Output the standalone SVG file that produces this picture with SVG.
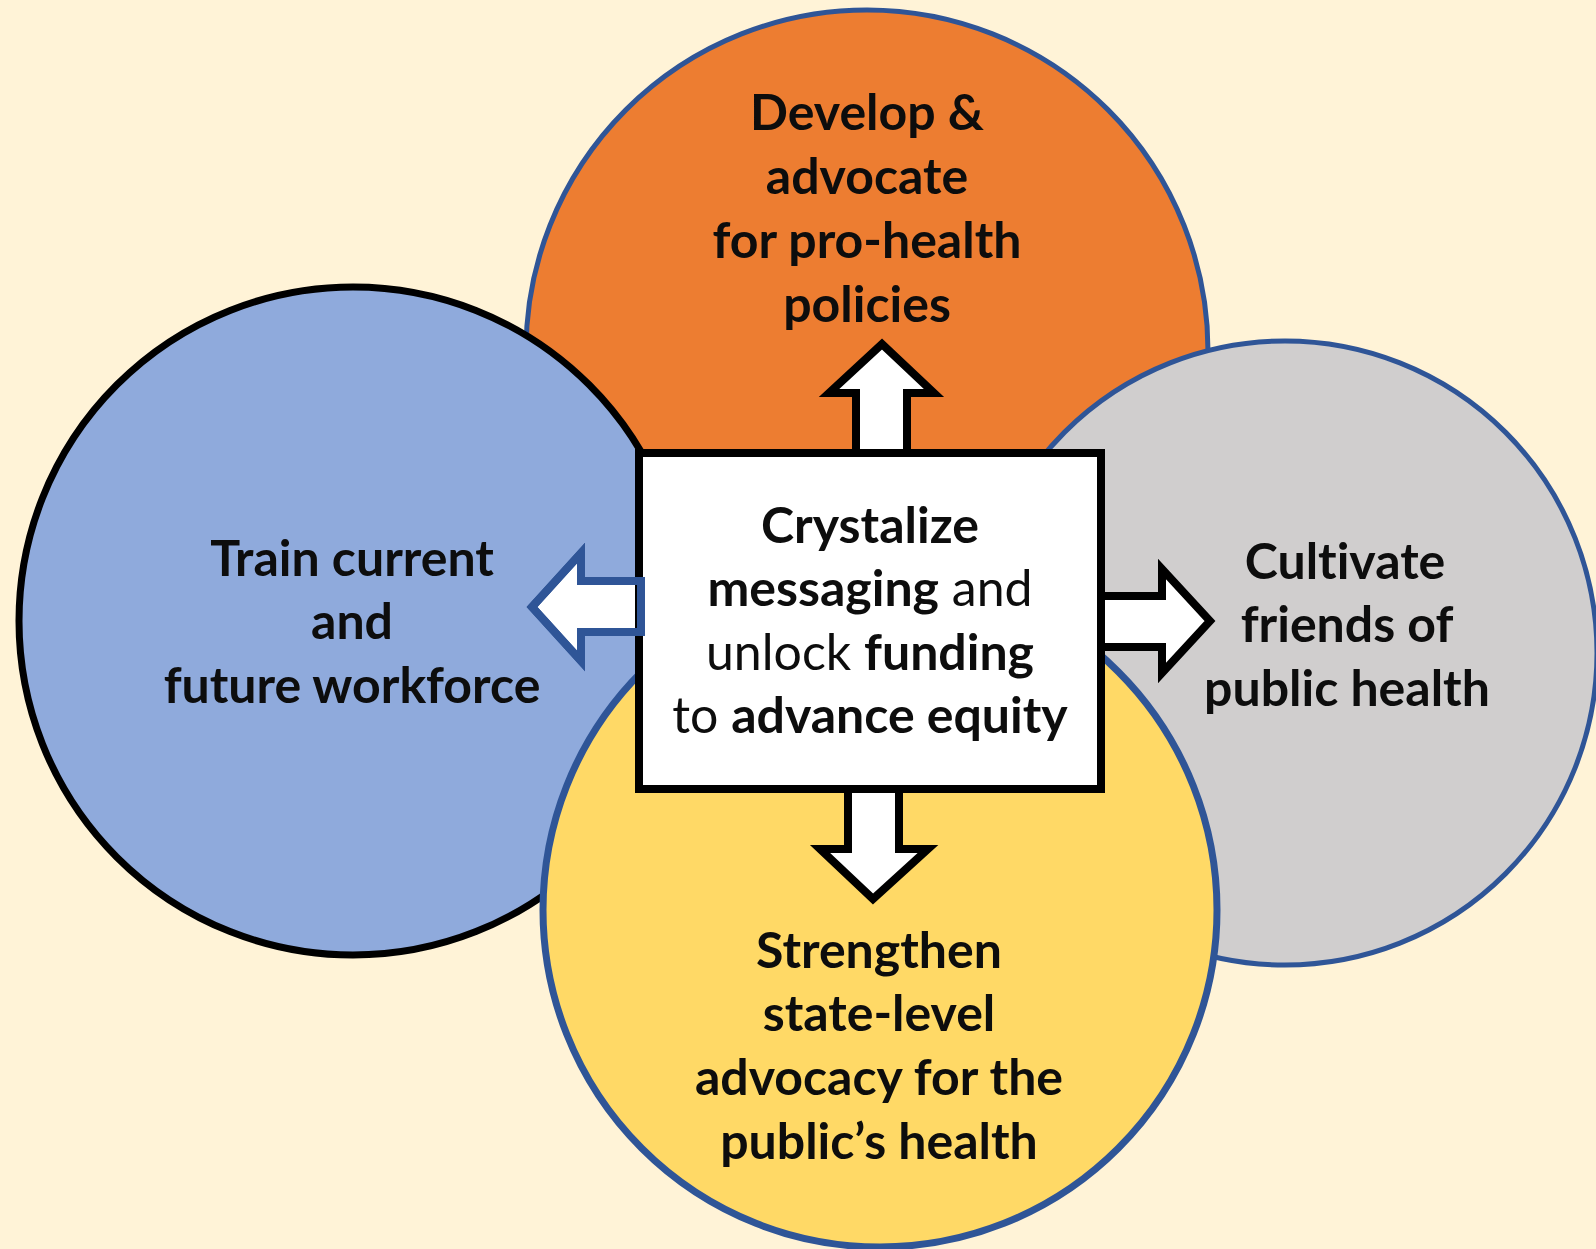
<svg xmlns="http://www.w3.org/2000/svg" width="1596" height="1249" viewBox="0 0 1596 1249">
<style>
.t{font-family:Lato,"Open Sans","Liberation Sans",sans-serif;font-size:50px;font-weight:bold;fill:#0d0d0d;text-anchor:middle;font-variant-ligatures:none;font-feature-settings:"liga" 0,"dlig" 0}
.r{font-weight:normal}
.ring{stroke:#2F5597;stroke-width:5}
.arw{fill:#fff;stroke:#000;stroke-width:8;stroke-linejoin:miter}
</style>
<rect x="0" y="0" width="1596" height="1249" fill="#FFF3D7"/>
<g id="node-policies">
<circle cx="867" cy="351" r="341" fill="#ED7D31" class="ring"/>
<text class="t"><tspan x="867" y="130">Develop &amp;</tspan><tspan x="867" y="194">advocate</tspan><tspan x="867" y="258">for pro-health</tspan><tspan x="867" y="322">policies</tspan></text>
</g>
<g id="node-workforce">
<circle cx="353" cy="621" r="334" fill="#8FAADC" stroke="#000" stroke-width="7"/>
<text class="t"><tspan x="352" y="576">Train current</tspan><tspan x="352" y="639">and</tspan><tspan x="352" y="703">future workforce</tspan></text>
</g>
<g id="node-friends">
<circle cx="1285" cy="653" r="312" fill="#D0CECE" class="ring"/>
<text class="t"><tspan x="1345" y="579">Cultivate</tspan><tspan x="1347" y="642">friends of</tspan><tspan x="1347" y="706">public health</tspan></text>
</g>
<g id="node-state">
<circle cx="880" cy="910" r="337" fill="#FFD966" stroke="#2F5597" stroke-width="7"/>
<text class="t"><tspan x="879" y="968">Strengthen</tspan><tspan x="879" y="1031">state-level</tspan><tspan x="879" y="1095">advocacy for the</tspan><tspan x="879" y="1159">public’s health</tspan></text>
</g>
<g id="connectors">
<polygon class="arw" points="856,456 856,393 829,393 882,344 934,393 907,393 907,456"/>
<polygon class="arw" points="848,786 848,849 820,849 873,899 928,849 899,849 899,786"/>
<polygon class="arw" points="1098,596 1162,596 1162,569 1210,621 1162,673 1162,647 1098,647"/>
<polygon points="532,607 581,553 581,581 641,581 641,632 581,632 581,661" fill="#fff" stroke="#2F5597" stroke-width="8"/>
</g>
<g id="node-center">
<rect x="639" y="453" width="462" height="336" fill="#fff" stroke="#000" stroke-width="8"/>
<polygon points="532,607 581,553 581,581 641,581 641,632 581,632 581,661" fill="none" stroke="#2F5597" stroke-width="8"/>
<text class="t"><tspan x="870" y="543">Crystalize</tspan><tspan x="870" y="606">messaging<tspan class="r"> and</tspan></tspan><tspan x="870" y="670"><tspan class="r">unlock </tspan>funding</tspan><tspan x="870" y="733"><tspan class="r">to </tspan>advance equity</tspan></text>
</g>
</svg>
